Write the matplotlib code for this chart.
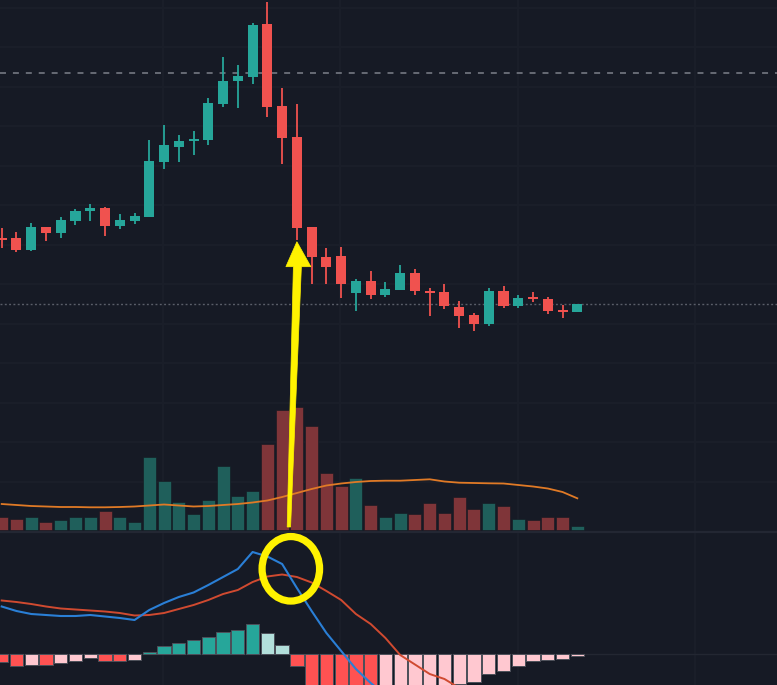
import numpy as np
import matplotlib
matplotlib.use("Agg")
import matplotlib.pyplot as plt
from matplotlib.patches import Polygon, Ellipse
from matplotlib.lines import Line2D
from matplotlib.transforms import ScaledTranslation, blended_transform_factory

plt.rcParams['lines.scale_dashes'] = False

# ---------------- data ----------------
opens = [36.15, 36.17, 35.0, 37.27, 36.67, 37.93, 38.9, 39.17, 37.43, 37.93,
         38.33, 43.83, 45.27, 45.87, 46.0, 49.6, 51.9, 52.27, 57.6, 49.35,
         46.33, 37.27, 34.33, 34.43, 30.67, 31.9, 30.47, 31.0, 32.73, 30.9,
         30.83, 29.33, 28.5, 27.6, 30.93, 29.4, 30.27, 30.1, 29.0, 28.77]
highs = [37.2, 36.83, 37.73, 37.33, 38.33, 39.1, 39.57, 39.27, 38.57, 38.67,
         46.0, 47.5, 46.5, 46.93, 50.17, 54.33, 53.47, 57.67, 59.83, 51.25,
         49.57, 37.27, 35.17, 35.33, 32.07, 32.93, 31.83, 33.5, 33.07, 31.17,
         31.57, 29.9, 28.73, 31.17, 31.43, 30.5, 30.83, 30.3, 29.5, 29.6]
lows = [35.2, 34.77, 34.93, 35.93, 36.17, 37.47, 37.93, 36.4, 37.07, 37.6,
        38.33, 43.1, 43.77, 44.5, 45.5, 49.27, 49.17, 51.6, 48.27, 43.63,
        36.0, 31.6, 31.6, 30.23, 28.93, 30.1, 30.27, 31.0, 30.5, 28.4,
        29.07, 27.17, 26.9, 27.4, 29.17, 29.17, 29.83, 28.57, 28.17, 28.77]
closes = [36.05, 35.0, 37.27, 36.67, 38.0, 38.93, 39.17, 37.43, 38.0, 38.43,
          43.93, 45.5, 45.93, 46.1, 49.73, 51.93, 52.4, 57.5, 49.27, 46.25,
          37.17, 34.27, 33.33, 31.6, 31.9, 30.5, 31.07, 32.73, 30.9, 30.73,
          29.4, 28.4, 27.6, 30.93, 29.4, 30.23, 30.07, 28.93, 28.8, 29.57]

volumes = [12700, 11000, 12700, 7700, 10000, 12700, 12700, 19300, 12700, 7700,
           73300, 48700, 27700, 15700, 29700, 63700, 34300, 39300, 86300, 120000,
           122700, 103700, 56700, 44000, 52300, 25300, 12700, 16700, 15700, 26700,
           16700, 33300, 20700, 27300, 24000, 11300, 10000, 12700, 12700, 4000]
volume_ma = [26000, 25000, 24000, 23500, 23000, 23000, 22700, 22700, 23000, 23500,
             24500, 25500, 24500, 23500, 24000, 25000, 26000, 27500, 29500, 33000,
             37000, 41000, 44500, 46500, 48000, 49000, 49300, 49300, 50000, 50700,
             48500, 47300, 47000, 46700, 46500, 45000, 43500, 41500, 38000, 31700]

macd_line = [0.47, 0.425, 0.395, 0.385, 0.375, 0.375, 0.385, 0.37, 0.355, 0.335,
             0.435, 0.505, 0.565, 0.61, 0.685, 0.765, 0.845, 1.015, 0.97, 0.895,
             0.655, 0.425, 0.205, 0.025, -0.155, -0.295, -0.415, -0.535, -0.57, -0.605,
             -0.585, -0.65, -0.70, -0.675, -0.695, -0.685, -0.655, -0.665, -0.665, -0.645]
signal_line = [0.53, 0.515, 0.495, 0.47, 0.45, 0.44, 0.43, 0.42, 0.405, 0.38,
               0.385, 0.405, 0.445, 0.485, 0.535, 0.595, 0.635, 0.715, 0.77, 0.79,
               0.765, 0.71, 0.625, 0.535, 0.395, 0.295, 0.155, -0.015, -0.11, -0.205,
               -0.255, -0.345, -0.415, -0.475, -0.525, -0.565, -0.585, -0.605, -0.615, -0.625]
histogram = [-0.083, -0.12, -0.11, -0.115, -0.093, -0.07, -0.047, -0.07, -0.072, -0.068,
             0.017, 0.08, 0.11, 0.14, 0.17, 0.217, 0.24, 0.30, 0.207, 0.087,
             -0.127, -0.33, -0.45, -0.54, -0.60, -0.62, -0.57, -0.52, -0.46, -0.40,
             -0.33, -0.305, -0.285, -0.20, -0.17, -0.12, -0.07, -0.06, -0.05, -0.02]

dashed_level = 52.75          # dashed horizontal line
last_price = closes[-1]       # dotted last-price line

# ---------------- style ----------------
BG = '#161a25'
GRID = '#1b1f2a'
UP = '#26a69a'
DOWN = '#f0524f'
VOL_UP = '#1f5f5b'
VOL_DOWN = '#7f3539'
H_UP, H_UP_FALL = '#26a69a', '#b2dfdb'
H_DN, H_DN_RISE = '#ff5252', '#ffc8d0'
YELLOW = '#fff200'

W, H = 777, 685
fig = plt.figure(figsize=(W / 100, H / 100), dpi=100)
fig.patch.set_facecolor(BG)

main_h = 531
macd_h = 152
axv = fig.add_axes([0, (H - main_h) / H, 1, main_h / H])
axp = fig.add_axes([0, (H - main_h) / H, 1, main_h / H], sharex=axv)
axm = fig.add_axes([0, 0, 1, macd_h / H], sharex=axv)
for a in (axv, axp, axm):
    a.set_axis_off()

n = len(closes)
x = np.arange(n)
axv.set_xlim(-0.115, 52.53)
axp.set_ylim(6.9, 60.0)
axv.set_ylim(-1000, 530000)
axm.set_ylim(-0.315, 1.205)

# ---------------- grid ----------------
gtrans = blended_transform_factory(axv.transAxes, axp.transData)
for gy in np.arange(11.83, 60, 3.95):
    axv.add_line(Line2D([0, 1], [gy, gy], transform=gtrans, color=GRID, lw=1.2, zorder=0))
for gx in np.arange(10.95, 53, 12):
    axv.axvline(gx, color=GRID, lw=1.2, zorder=0)
    axm.axvline(gx, color=GRID, lw=1.2, zorder=0)
axm.axhline(0, color='#232732', lw=1.0, zorder=0)

# ---------------- volume ----------------
vcolors = [VOL_UP if c >= o else VOL_DOWN for o, c in zip(opens, closes)]
axv.bar(x, volumes, width=0.88, color=vcolors, edgecolor='#14171f', linewidth=0.4, zorder=2)
axv.plot(x, volume_ma, color='#e07a26', lw=1.3, zorder=3)

# ---------------- candles ----------------
axp.axhline(dashed_level, color='#7d808a', lw=1.1, dashes=(4.3, 5.0), zorder=1)
axp.axhline(last_price, color='#5a5e69', lw=1.0, dashes=(1.4, 1.7), zorder=1)
ccolors = [UP if c >= o else DOWN for o, c in zip(opens, closes)]
axp.vlines(x, lows, highs, colors=ccolors, lw=1.3, zorder=3)
bottoms = np.minimum(opens, closes)
heights = np.maximum(np.abs(np.array(closes) - np.array(opens)), 0.15)
axp.bar(x, heights, bottom=bottoms, width=0.68, color=ccolors, zorder=4)

# ---------------- MACD ----------------
hcolors = []
prev = 0.0
for hv in histogram:
    if hv >= 0:
        hcolors.append(H_UP if hv >= prev else H_UP_FALL)
    else:
        hcolors.append(H_DN if hv < prev else H_DN_RISE)
    prev = hv
axm.bar(x, histogram, width=0.9, color=hcolors, edgecolor='#4d505a', linewidth=0.7, zorder=2)
axm.plot(x, signal_line, color='#d04a30', lw=1.4, zorder=3)
axm.plot(x, macd_line, color='#2a7fd6', lw=1.5, zorder=4)

# pane separator
fig.add_artist(Line2D([0, 1], [(H - main_h - 1) / H] * 2, transform=fig.transFigure,
                      color='#232733', lw=1.6))

# ---------------- annotations ----------------
tip_i = 20
tip_trans = fig.dpi_scale_trans + ScaledTranslation(tip_i, lows[tip_i], axp.transData)
arrow_px = [(0, -1.7), (14, -26.7), (4.5, -26.7), (-6.3, -287), (-9.7, -287),
            (-3.5, -26.7), (-11, -26.7)]
arrow = Polygon([(px / 100, py / 100) for px, py in arrow_px], closed=True,
                transform=tip_trans, facecolor=YELLOW, edgecolor=YELLOW, lw=0.5, zorder=10)
fig.add_artist(arrow)

cross_i = 19.59
cross_v = 0.847
circ_trans = fig.dpi_scale_trans + ScaledTranslation(cross_i, cross_v, axm.transData)
ring = Ellipse((0, 0), width=0.575, height=0.645, transform=circ_trans,
               fill=False, edgecolor=YELLOW, lw=5.2, zorder=10)
fig.add_artist(ring)

fig.savefig('out.png', dpi=100, facecolor=BG)
